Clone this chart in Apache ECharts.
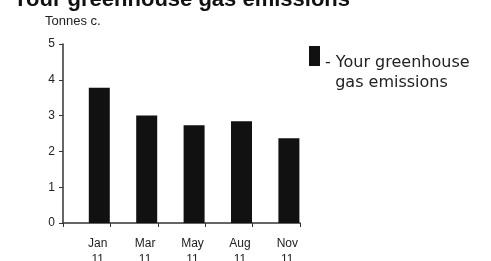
<!DOCTYPE html>
<html>
<head>
<meta charset="utf-8">
<script src="https://cdn.jsdelivr.net/npm/echarts@6/dist/echarts.min.js"></script>
<style>
html, body { margin: 0; padding: 0; background: #fff; }
#chart { width: 491px; height: 261px; }
</style>
</head>
<body>
<div id="chart"></div>
<script>
var months = ['Jan\n11', 'Mar\n11', 'May\n11', 'Aug\n11', 'Nov\n11'];
var emissions = [3.78, 3.0, 2.73, 2.84, 2.37];
var seriesName = 'Your greenhouse gas emissions';

var myChart = echarts.init(document.getElementById('chart'));
var option = {
    animation: false,
    title: {
        text: 'Your greenhouse gas emissions',
        left: 8,
        top: -16,
        textStyle: { fontFamily: 'Liberation Sans', fontSize: 22, fontWeight: 'bold', color: '#111' }
    },
    legend: {
        data: [seriesName],
        left: 309,
        top: 34,
        padding: 0,
        icon: 'rect',
        itemWidth: 11,
        itemHeight: 20,
        itemGap: 3,
        formatter: function (name) {
            return '{gap| }\n{t|- Your greenhouse}\n{t|  gas emissions}';
        },
        textStyle: {
            fontFamily: 'DejaVu Sans', fontSize: 16, color: '#222',
            rich: {
                gap: { fontSize: 4, lineHeight: 34 },
                t: { fontFamily: 'DejaVu Sans', fontSize: 16, color: '#222', lineHeight: 20 }
            }
        }
    },
    grid: { left: 63, right: 191, top: 44, bottom: 38, outerBoundsMode: 'none' },
    xAxis: {
        type: 'category',
        data: months,
        axisLine: { lineStyle: { color: '#333', width: 1.5 } },
        axisTick: { show: true, length: 4, lineStyle: { color: '#333' } },
        axisLabel: { fontFamily: 'Liberation Sans', fontSize: 12, color: '#222', margin: 13, lineHeight: 16, padding: [0, 0, 0, 22] }
    },
    yAxis: {
        type: 'value',
        min: 0,
        max: 5,
        interval: 1,
        name: 'Tonnes c.',
        nameLocation: 'end',
        nameGap: 16,
        nameTextStyle: { fontFamily: 'Liberation Sans', fontSize: 13, color: '#222', align: 'left', padding: [0, 0, 0, -18] },
        splitLine: { show: false },
        axisLine: { show: true, lineStyle: { color: '#333', width: 1.5 } },
        axisTick: { show: true, length: 4, lineStyle: { color: '#333' } },
        axisLabel: { fontFamily: 'Liberation Sans', fontSize: 12, color: '#222', margin: 8 }
    },
    series: [{
        name: 'offset',
        type: 'bar',
        data: ['-', '-', '-', '-', '-'],
        barWidth: 21,
        barGap: '20%',
        itemStyle: { color: 'transparent' }
    }, {
        name: seriesName,
        type: 'bar',
        data: emissions,
        barWidth: 21,
        barGap: '20%',
        itemStyle: { color: '#111' }
    }]
};
myChart.setOption(option);
</script>
</body>
</html>
